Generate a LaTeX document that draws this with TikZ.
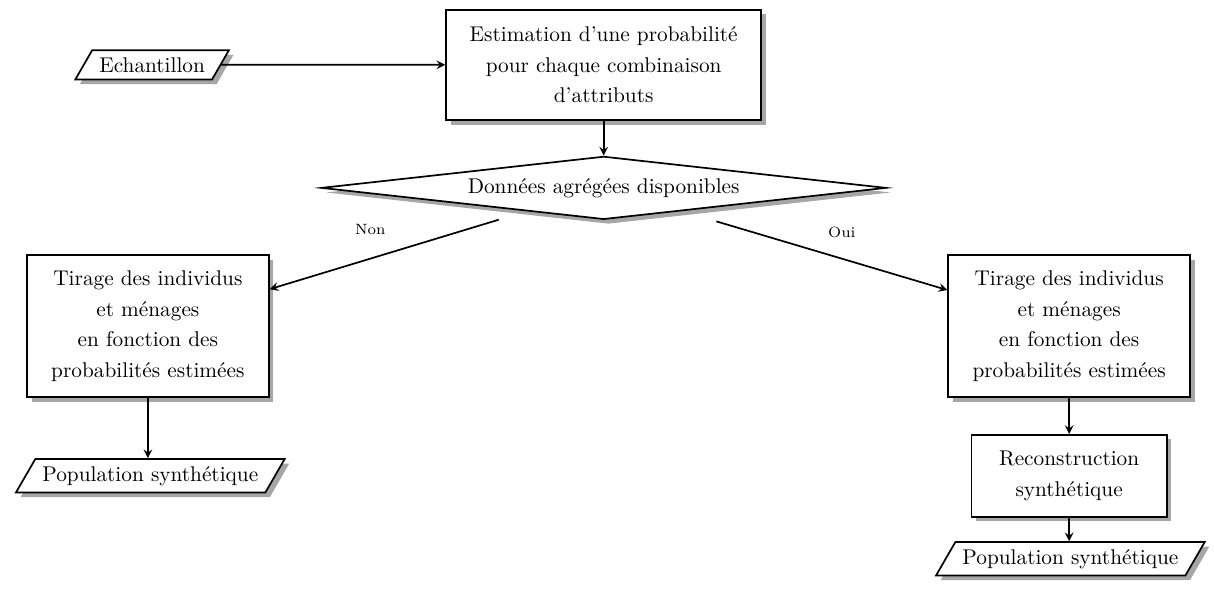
\documentclass[tikz,border=0pt]{standalone}
\usepackage{tikz}
\usetikzlibrary{shapes.geometric,shadows}

\begin{document}
\begin{tikzpicture}[
    boite/.style={draw,thick,fill=white,drop shadow={opacity=0.7},align=center,font=\linespread{1.2}\selectfont},
    donnee/.style={trapezium,trapezium left angle=60,trapezium right angle=120,draw,thick,fill=white,drop shadow={opacity=0.7}},
    choix/.style={diamond,aspect=9,inner sep=0pt,draw,thick,fill=white,drop shadow={opacity=0.7}},
    fleche/.style={-stealth,thick}]
        \useasboundingbox (0,0) rectangle (20.03,-9.77);

        \node[donnee] (ech) at (2.51,-1.07) {Echantillon};
        \node[boite,minimum width=5.2cm,minimum height=1.82cm] (estim) at (9.96,-1.07)
            {Estimation d'une probabilit\'e\\pour chaque combinaison\\d'attributs};
        \node[choix,minimum width=9.32cm,minimum height=1.04cm] (agreg) at (9.96,-3.10)
            {Donn\'ees agr\'eg\'ees disponibles};

        \node[boite,minimum width=3.99cm,minimum height=2.34cm] (tirnon) at (2.44,-5.38)
            {Tirage des individus\\et m\'enages\\en fonction des\\probabilit\'es estim\'ees};
        \node[donnee] (popnon) at (2.48,-7.85) {Population synth\'etique};

        \node[boite,minimum width=3.99cm,minimum height=2.34cm] (tiroui) at (17.64,-5.38)
            {Tirage des individus\\et m\'enages\\en fonction des\\probabilit\'es estim\'ees};
        \node[boite,minimum width=3.22cm,minimum height=1.35cm] (recons) at (17.64,-7.85)
            {Reconstruction\\synth\'etique};
        \node[donnee] (popoui) at (17.66,-9.22) {Population synth\'etique};

        \node[font=\scriptsize] (non) at (6.11,-3.78) {Non};
        \node[font=\scriptsize] (oui) at (13.89,-3.83) {Oui};

        \draw[fleche] (ech) -- (estim);
        \draw[fleche] (estim) -- (agreg);
        \draw[fleche,shorten <=1.81cm] (agreg.center) -- (tirnon);
        \draw[fleche,shorten <=1.94cm] (agreg.center) -- (tiroui);
        \draw[fleche] (tirnon.south) -- (popnon.north -| tirnon.south);
        \draw[fleche] (tiroui) -- (recons);
        \draw[fleche] (recons.south) -- (popoui.north -| recons.south);
\end{tikzpicture}
\end{document}
